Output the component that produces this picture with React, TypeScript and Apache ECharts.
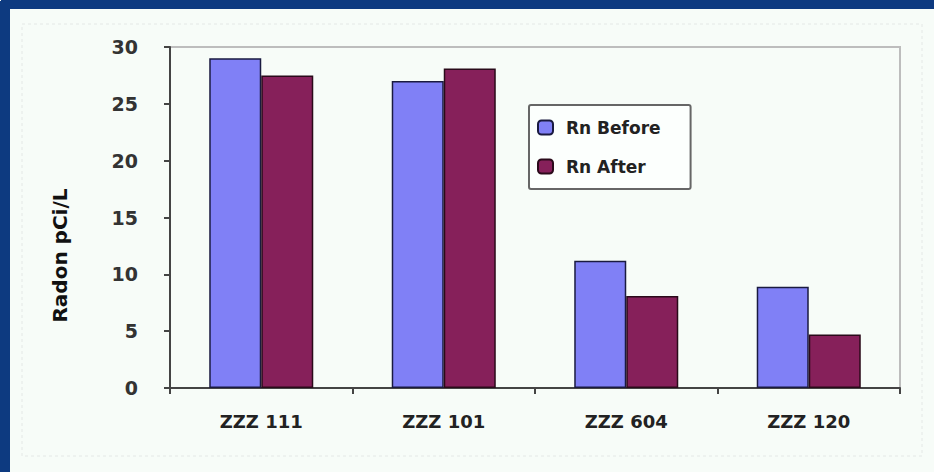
import React, { useEffect, useRef } from "react";
import * as echarts from "echarts";

const categories = ["ZZZ 111", "ZZZ 101", "ZZZ 604", "ZZZ 120"];
const rnBefore = [29.0, 27.0, 11.2, 8.9];
const rnAfter = [27.5, 28.1, 8.1, 4.7];
const seriesNames = ["Rn Before", "Rn After"];
const yTicks = { min: 0, max: 30, interval: 5 };
const yAxisTitle = "Radon pCi/L";

export default function App() {
  const ref = useRef<HTMLDivElement>(null);
  useEffect(() => {
    document.body.style.margin = "0";
    document.body.style.background = "#f7fcf8";
    if (!ref.current) return;
    const chart = echarts.init(ref.current, undefined, { renderer: "svg" });
    chart.setOption({
      animation: false,
      backgroundColor: "#f7fcf8",
      textStyle: { fontFamily: "DejaVu Sans, Arial, sans-serif" },
      graphic: [
        {
          type: "rect",
          shape: { x: 12, y: 15, width: 900, height: 432 },
          style: { fill: "none", stroke: "#e4e8e6", lineWidth: 1, lineDash: [3, 3] },
          z: 0,
        },
      ],
      grid: {
        left: 160,
        right: 34,
        top: 38,
        bottom: 84,
        show: true,
        borderColor: "#bdbdbd",
        borderWidth: 2,
        backgroundColor: "transparent",
      },
      legend: {
        orient: "vertical",
        left: 519,
        top: 96,
        data: seriesNames,
        itemWidth: 15,
        itemHeight: 14,
        itemGap: 22,
        padding: [14, 30, 14, 8],
        borderColor: "#666",
        borderWidth: 2,
        borderRadius: 2,
        backgroundColor: "#fcfffd",
        textStyle: {
          fontSize: 17,
          fontWeight: "bold",
          color: "#222",
          padding: [0, 0, 0, 8],
        },
      },
      xAxis: {
        type: "category",
        data: categories,
        axisLine: { lineStyle: { color: "#444", width: 2 } },
        axisTick: { show: true, length: 6, lineStyle: { color: "#444", width: 2 } },
        axisLabel: { fontSize: 18, fontWeight: "bold", color: "#222", margin: 24 },
      },
      yAxis: {
        type: "value",
        min: yTicks.min,
        max: yTicks.max,
        interval: yTicks.interval,
        name: yAxisTitle,
        nameLocation: "middle",
        nameGap: 100,
        nameTextStyle: {
          fontSize: 20,
          fontWeight: "bold",
          color: "#111",
          padding: [0, 76, 0, 0],
        },
        axisLine: { show: true, lineStyle: { color: "#444", width: 2 } },
        axisTick: { show: true, length: 6, lineStyle: { color: "#444", width: 2 } },
        axisLabel: { fontSize: 19, fontWeight: "bold", color: "#333", margin: 32 },
        splitLine: { show: false },
      },
      series: [
        {
          name: seriesNames[0],
          type: "bar",
          data: rnBefore,
          barGap: "0%",
          barCategoryGap: "43%",
          itemStyle: { color: "#8080f6", borderColor: "#1a1a40", borderWidth: 1.5 },
        },
        {
          name: seriesNames[1],
          type: "bar",
          data: rnAfter,
          itemStyle: { color: "#86205a", borderColor: "#2a0a1a", borderWidth: 1.5 },
        },
      ],
    });
    return () => chart.dispose();
  }, []);
  return (
    <div
      style={{
        position: "fixed",
        left: 0,
        top: 0,
        width: 934,
        height: 472,
        background: "#f7fcf8",
      }}
    >
      <div ref={ref} style={{ position: "absolute", left: 10, top: 9, width: 924, height: 463 }} />
      <div style={{ position: "absolute", left: 1, top: 0, width: 933, height: 9, background: "#0d3a80" }} />
      <div style={{ position: "absolute", left: 0, top: 1, width: 10, height: 471, background: "#0d3a80" }} />
    </div>
  );
}
